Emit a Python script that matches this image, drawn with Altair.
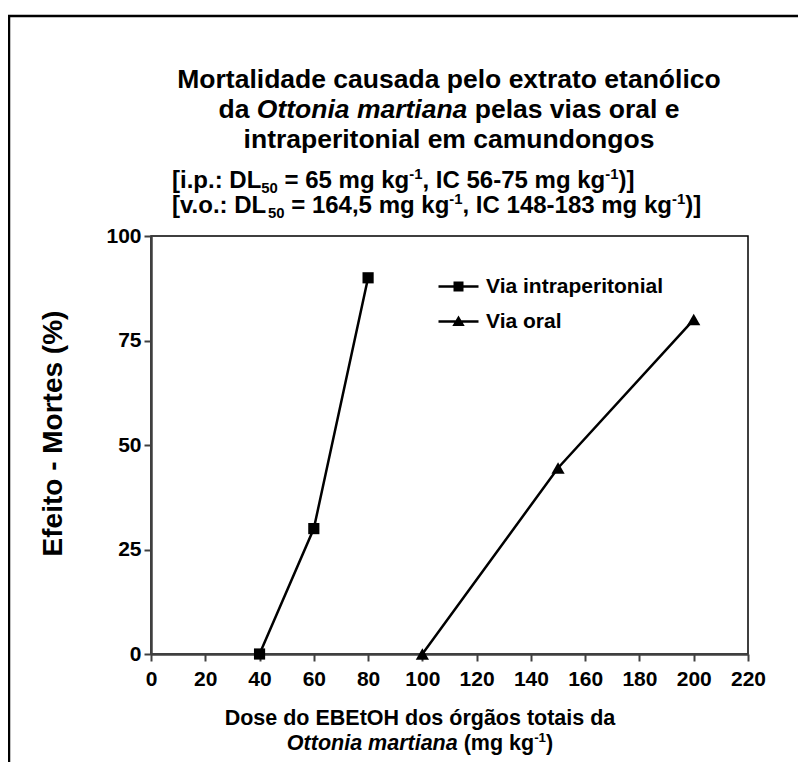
import altair as alt
import pandas as pd

FONT = "Liberation Sans, Arial, sans-serif"

# ---------------- data ----------------
series = ["Via intraperitonial", "Via oral"]
dose_ip = [40, 60, 80]
mort_ip = [0, 30, 90]
dose_vo = [100, 150, 200]
mort_vo = [0, 44.5, 80]
x_ticks = [0, 20, 40, 60, 80, 100, 120, 140, 160, 180, 200, 220]
y_ticks = [0, 25, 50, 75, 100]

title_l1 = [("Mortalidade causada pelo extrato etanólico", "normal", "n")]
title_l2 = [("da ", "normal", "n"), ("Ottonia martiana", "italic", "n"),
            (" pelas vias oral e", "normal", "n")]
title_l3 = [("intraperitonial em camundongos", "normal", "n")]
sub_l1 = [("[i.p.: DL", "normal", "n"), ("50", "normal", "sub"),
          (" = 65 mg kg", "normal", "n"), ("-1", "normal", "sup"),
          (", IC 56-75 mg kg", "normal", "n"), ("-1", "normal", "sup"),
          (")]", "normal", "n")]
sub_l2 = [("[v.o.: DL", "normal", "n"), ("50", "normal", "sub"),
          (" = 164,5 mg kg", "normal", "n"), ("-1", "normal", "sup"),
          (", IC 148-183 mg kg", "normal", "n"), ("-1", "normal", "sup"),
          (")]", "normal", "n")]
xt_l1 = [("Dose do EBEtOH dos órgãos totais da", "normal", "n")]
xt_l2 = [("Ottonia martiana", "italic", "n"), (" (mg kg", "normal", "n"),
         ("-1", "normal", "sup"), (")", "normal", "n")]
y_title = "Efeito - Mortes (%)"

df = pd.DataFrame({
    "dose": dose_ip + dose_vo,
    "mort": mort_ip + mort_vo,
    "via": [series[0]] * len(dose_ip) + [series[1]] * len(dose_vo),
})

# ---------------- helpers ----------------
ARIAL_BOLD = {' ': 278, '%': 889, '(': 333, ')': 333, ',': 278, '-': 333, '.': 278,
              ':': 333, '=': 584, '[': 333, ']': 333,
              'A': 722, 'B': 722, 'C': 722, 'D': 722, 'E': 667, 'F': 611, 'G': 778,
              'H': 722, 'I': 278, 'J': 556, 'K': 722, 'L': 611, 'M': 833, 'N': 722,
              'O': 778, 'P': 667, 'Q': 778, 'R': 722, 'S': 667, 'T': 611, 'U': 722,
              'V': 667, 'W': 944, 'X': 667, 'Y': 667, 'Z': 611,
              'a': 556, 'b': 611, 'c': 556, 'd': 611, 'e': 556, 'f': 333, 'g': 611,
              'h': 611, 'i': 278, 'j': 278, 'k': 556, 'l': 278, 'm': 889, 'n': 611,
              'o': 611, 'p': 611, 'q': 611, 'r': 389, 's': 556, 't': 333, 'u': 611,
              'v': 556, 'w': 778, 'x': 556, 'y': 556, 'z': 500, 'ó': 611, 'ã': 556}
for d in "0123456789":
    ARIAL_BOLD[d] = 556


def tw(s, size):
    return sum(ARIAL_BOLD.get(c, 556) for c in s) * size / 1000.0


ONE = alt.InlineData(values=[{"k": 1}])


def text_line(segments, size, x, y, align="center"):
    parts = []
    for txt, style, kind in segments:
        fs = size * 0.62 if kind != "n" else size
        dy = 0.22 * size if kind == "sub" else (-0.38 * size if kind == "sup" else 0)
        parts.append((txt, style, fs, dy))
    total = sum(tw(t, fs) for t, _, fs, _ in parts)
    cur = x - total / 2 if align == "center" else x
    layers = []
    for txt, style, fs, dy in parts:
        lead = len(txt) - len(txt.lstrip(" "))
        xd = cur + tw(" " * lead, fs)
        layers.append(
            alt.Chart(ONE).mark_text(
                align="left", baseline="alphabetic", font=FONT, fontSize=fs,
                fontWeight="bold", fontStyle=style, color="black"
            ).encode(x=alt.value(xd), y=alt.value(y + dy), text=alt.value(txt.strip(" ")))
        )
        cur += tw(txt, fs)
    return layers


# ---------------- chart ----------------
W, H = 597, 418
xs = alt.Scale(domain=[0, 220], nice=False)
ys = alt.Scale(domain=[0, 100], nice=False)

x_enc = alt.X("dose:Q", scale=xs, axis=alt.Axis(values=x_ticks, title=None))
y_enc = alt.Y("mort:Q", scale=ys, axis=alt.Axis(
    values=y_ticks, title=y_title, titleX=-98, titleY=197, titleAngle=-90,
    titleAlign="center", titleBaseline="middle", titleFontSize=28))

base = alt.Chart(df)

lines = base.mark_line(color="black", strokeWidth=2.5).encode(
    x=x_enc, y=y_enc, detail="via:N")

points = base.mark_point(filled=True, color="black", opacity=1).encode(
    x=x_enc, y=y_enc,
    shape=alt.Shape("via:N", scale=alt.Scale(domain=series, range=["square", "triangle-up"]),
                    legend=None),
    size=alt.Size("via:N", scale=alt.Scale(domain=series, range=[125, 175]), legend=None),
)

SQ_PATH = "M-2,-0.12H2V0.12H-2Z M-0.5,-0.5H0.5V0.5H-0.5Z"
TRI_PATH = "M-2,-0.12H2V0.12H-2Z M0,-0.6L0.62,0.45L-0.62,0.45Z"

legend_layer = base.mark_point(filled=True, color="black", opacity=0, size=400).encode(
    x=x_enc, y=y_enc,
    shape=alt.Shape("via:N", scale=alt.Scale(domain=series, range=[SQ_PATH, TRI_PATH]),
                    legend=alt.Legend(
                        title=None, orient="none", legendX=297, legendY=40,
                        padding=0, symbolSize=400, symbolFillColor="black",
                        symbolStrokeWidth=0, symbolOpacity=1, labelLimit=400,
                        labelFont=FONT, labelFontSize=21, labelFontWeight="bold",
                        labelColor="black", labelOffset=17, rowPadding=13)),
)

frame_left = alt.Chart(ONE).mark_rule(color="black", strokeWidth=2.5).encode(
    x=alt.value(-142), y=alt.value(-221), y2=alt.value(560))
frame_top = alt.Chart(ONE).mark_rule(color="black", strokeWidth=2.5).encode(
    x=alt.value(-143), x2=alt.value(700), y=alt.value(-220))

texts = []
texts += text_line(title_l1, 26.5, 298, -148)
texts += text_line(title_l2, 26.5, 298, -118)
texts += text_line(title_l3, 26.5, 298, -88)
texts += text_line(sub_l1, 24, 21, -48, align="left")
texts += text_line(sub_l2, 24, 21, -23, align="left")
texts += text_line(xt_l1, 21.5, 269, 489)
texts += text_line(xt_l2, 21.5, 269, 514)

chart = alt.layer(lines, points, legend_layer, frame_left, frame_top, *texts).resolve_scale(
    shape="independent", size="independent"
).properties(
    width=W, height=H,
    autosize=alt.AutoSizeParams(type="none"),
    padding={"left": 143, "top": 228, "right": 50, "bottom": 108},
).configure_view(
    stroke="black", strokeWidth=1.5
).configure_axis(
    grid=False, domainColor="#404040", domainWidth=2.5, tickColor="#404040",
    tickWidth=2, tickSize=7, labelFont=FONT, labelFontSize=21, labelFontWeight="bold",
    labelColor="black", labelPadding=7, titleFont=FONT, titleFontWeight="bold",
    titleColor="black", labelFlush=False, labelOverlap=False
).configure_axisY(labelPadding=3)

chart.save("out.html", embed_options={"renderer": "svg", "actions": False})
